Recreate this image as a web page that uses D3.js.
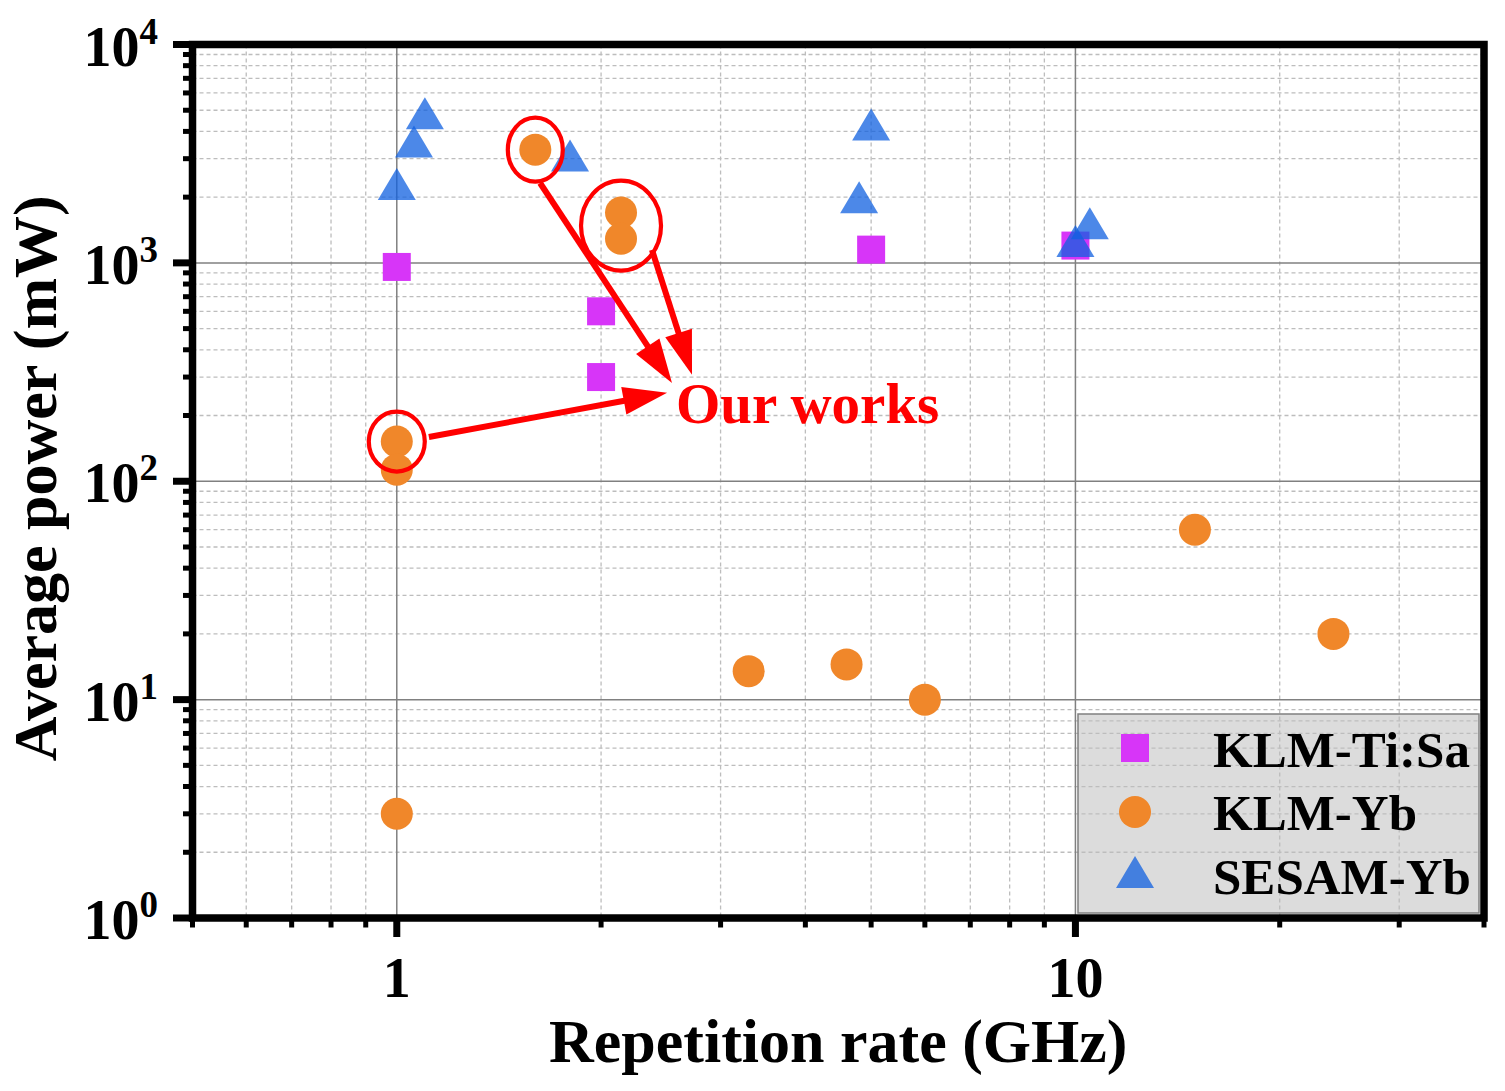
<!DOCTYPE html>
<html>
<head>
<meta charset="utf-8">
<script src="https://cdn.jsdelivr.net/npm/d3@7"></script>
<style>
  html, body { margin: 0; padding: 0; background: #fff; }
  svg { display: block; }
  text { font-family: "Liberation Serif", "Times New Roman", serif; font-weight: bold; }
</style>
</head>
<body>
<svg id="chart" width="1505" height="1091"></svg>
<script>
// ---------------- data ----------------
const tisaX = [1, 2, 2, 5, 10];
const tisaY = [958, 600, 300, 1150, 1200];

const ybX = [1.6, 2.14, 2.14, 1, 1, 1, 3.3, 4.6, 6, 15, 24];
const ybY = [3300, 1700, 1290, 152, 113, 3, 13.5, 14.5, 10, 60, 20];

const sesamX = [1, 1.06, 1.1, 1.8, 5, 4.8, 10, 10.5];
const sesamY = [2300, 3600, 4850, 3100, 4300, 2000, 1260, 1520];

const seriesNames = ["KLM-Ti:Sa", "KLM-Yb", "SESAM-Yb"];

const xMajorTicks = [1, 10];
const xMinorTicks = [0.5, 0.6, 0.7, 0.8, 0.9, 2, 3, 4, 5, 6, 7, 8, 9, 20, 30, 40];
const yMajorTicks = [1, 10, 100, 1000, 10000];
const yMajorExp = ["0", "1", "2", "3", "4"];
const yMinorTicks = [1, 10, 100, 1000].flatMap(d => [2,3,4,5,6,7,8,9].map(m => m * d));

// annotation (data coordinates)
const circledIdx = [[0], [1, 2], [3]];       // KLM-Yb points circled ("Our works")
const arrowStartX = [1.626, 2.377, 1.115];
const arrowStartY = [2322, 1146, 159.5];
const arrowTipX = [2.544, 2.723, 2.502];
const arrowTipY = [282, 307, 254];
const noteX = 2.578, noteY = 185, noteText = "Our works";

// ---------------- layout ----------------
const L = 192.5, R = 1484, T = 44.5, B = 918;
const x = d3.scaleLog().domain([0.5, 40]).range([L, R]);
const y = d3.scaleLog().domain([1, 10000]).range([B, T]);

const colTi = "#D735F8", colYb = "#F0872A", colSe = "#1060E0";
const svg = d3.select("#chart");

// legend background (under grid, grid shows through)
const lg = { x0: 1078, y0: 714, x1: 1479, y1: 913 };
svg.append("rect").attr("x", lg.x0).attr("y", lg.y0)
  .attr("width", lg.x1 - lg.x0).attr("height", lg.y1 - lg.y0)
  .attr("fill", "#dcdcdc");

// ---------------- grid ----------------
const grid = svg.append("g");
grid.selectAll(".gxm").data(xMinorTicks.filter(d => d > 0.5 && d < 40)).join("line")
  .attr("x1", d => x(d)).attr("x2", d => x(d)).attr("y1", T).attr("y2", B)
  .attr("stroke", "#bdbdbd").attr("stroke-width", 1.3).attr("stroke-dasharray", "4,3");
grid.selectAll(".gym").data(yMinorTicks).join("line")
  .attr("y1", d => y(d)).attr("y2", d => y(d)).attr("x1", L).attr("x2", R)
  .attr("stroke", "#bdbdbd").attr("stroke-width", 1.3).attr("stroke-dasharray", "4,3");
grid.selectAll(".gxM").data(xMajorTicks).join("line")
  .attr("x1", d => x(d)).attr("x2", d => x(d)).attr("y1", T).attr("y2", B)
  .attr("stroke", "#808080").attr("stroke-width", 1.5);
grid.selectAll(".gyM").data(yMajorTicks.slice(1, -1)).join("line")
  .attr("y1", d => y(d)).attr("y2", d => y(d)).attr("x1", L).attr("x2", R)
  .attr("stroke", "#808080").attr("stroke-width", 1.5);

// legend border
svg.append("rect").attr("x", lg.x0).attr("y", lg.y0)
  .attr("width", lg.x1 - lg.x0).attr("height", lg.y1 - lg.y0)
  .attr("fill", "none").attr("stroke", "#808080").attr("stroke-width", 1.5);

// ---------------- markers ----------------
const sq = 28, cr = 16, tw = 38, th = 32;
const triPath = `M0,${-th/2}L${tw/2},${th/2}L${-tw/2},${th/2}Z`;

svg.append("g").selectAll("rect").data(tisaX.map((v, i) => [v, tisaY[i]])).join("rect")
  .attr("x", d => x(d[0]) - sq/2).attr("y", d => y(d[1]) - sq/2)
  .attr("width", sq).attr("height", sq).attr("fill", colTi);

svg.append("g").selectAll("circle").data(ybX.map((v, i) => [v, ybY[i]])).join("circle")
  .attr("cx", d => x(d[0])).attr("cy", d => y(d[1])).attr("r", cr).attr("fill", colYb);

svg.append("g").selectAll("path").data(sesamX.map((v, i) => [v, sesamY[i]])).join("path")
  .attr("d", triPath).attr("transform", d => `translate(${x(d[0])},${y(d[1])})`)
  .attr("fill", colSe).attr("fill-opacity", 0.75);

// ---------------- annotation ----------------
const ann = svg.append("g");
const ellR = [[27.5, 32], [40, 45], [28, 30]];
circledIdx.forEach((idx, k) => {
  const cx = d3.mean(idx, i => x(ybX[i]));
  const cy = d3.mean(idx, i => y(ybY[i]));
  ann.append("ellipse").attr("cx", cx).attr("cy", cy)
    .attr("rx", ellR[k][0]).attr("ry", ellR[k][1])
    .attr("fill", "none").attr("stroke", "#ff0000").attr("stroke-width", 4.2);
});
arrowStartX.forEach((sx, k) => {
  const x0 = x(sx), y0 = y(arrowStartY[k]);
  const x1 = x(arrowTipX[k]), y1 = y(arrowTipY[k]);
  const len = Math.hypot(x1 - x0, y1 - y0);
  const ux = (x1 - x0) / len, uy = (y1 - y0) / len;
  const hl = 44, hw = 14;
  ann.append("line").attr("x1", x0).attr("y1", y0)
    .attr("x2", x1 - ux * hl * 0.8).attr("y2", y1 - uy * hl * 0.8)
    .attr("stroke", "#ff0000").attr("stroke-width", 6);
  const bx = x1 - ux * hl, by = y1 - uy * hl;
  ann.append("path")
    .attr("d", `M${x1},${y1}L${bx - uy * hw},${by + ux * hw}L${bx + uy * hw},${by - ux * hw}Z`)
    .attr("fill", "#ff0000");
});
ann.append("text").attr("x", x(noteX)).attr("y", y(noteY))
  .attr("font-size", 57).attr("fill", "#ff0000").text(noteText);

// ---------------- axes ----------------
const ax = svg.append("g");
// minor ticks
ax.selectAll(".xmt").data(xMinorTicks).join("line")
  .attr("x1", d => x(d)).attr("x2", d => x(d)).attr("y1", B).attr("y2", B + 9.5)
  .attr("stroke", "#000").attr("stroke-width", 5);
ax.selectAll(".ymt").data(yMinorTicks).join("line")
  .attr("y1", d => y(d)).attr("y2", d => y(d)).attr("x1", L).attr("x2", L - 9.5)
  .attr("stroke", "#000").attr("stroke-width", 5);
// major ticks
ax.selectAll(".xMt").data(xMajorTicks).join("line")
  .attr("x1", d => x(d)).attr("x2", d => x(d)).attr("y1", B).attr("y2", B + 19)
  .attr("stroke", "#000").attr("stroke-width", 7);
ax.selectAll(".yMt").data(yMajorTicks).join("line")
  .attr("y1", d => y(d)).attr("y2", d => y(d)).attr("x1", L).attr("x2", L - 19.5)
  .attr("stroke", "#000").attr("stroke-width", 7);
// frame
ax.append("rect").attr("x", L).attr("y", T).attr("width", R - L).attr("height", B - T)
  .attr("fill", "none").attr("stroke", "#000").attr("stroke-width", 7.5);

// x tick labels
ax.selectAll(".xl").data(xMajorTicks).join("text")
  .attr("x", d => x(d)).attr("y", B + 79).attr("text-anchor", "middle")
  .attr("font-size", 56).text(d => d3.format("d")(d));

// y tick labels
yMajorTicks.forEach((d, i) => {
  const t = ax.append("text").attr("x", 158).attr("y", y(d) + 21)
    .attr("text-anchor", "end").attr("font-size", 56);
  t.append("tspan").text("10");
  t.append("tspan").attr("font-size", 37).attr("dy", -22).text(yMajorExp[i]);
});

// axis titles
svg.append("text").attr("x", (L + R) / 2).attr("y", 1062).attr("text-anchor", "middle")
  .attr("font-size", 62).text("Repetition rate (GHz)");
svg.append("text").attr("transform", `translate(56,${(T + B) / 2 - 3}) rotate(-90)`)
  .attr("text-anchor", "middle").attr("font-size", 62).text("Average power (mW)");

// ---------------- legend items ----------------
const legY = [748, 812, 872];
const legBase = [767, 830, 894];
const lgx = 1135;
svg.append("rect").attr("x", lgx - sq/2).attr("y", legY[0] - sq/2)
  .attr("width", sq).attr("height", sq).attr("fill", colTi);
svg.append("circle").attr("cx", lgx).attr("cy", legY[1]).attr("r", cr).attr("fill", colYb);
svg.append("path").attr("d", triPath).attr("transform", `translate(${lgx},${legY[2]})`)
  .attr("fill", colSe).attr("fill-opacity", 0.75);
seriesNames.forEach((n, i) => {
  svg.append("text").attr("x", 1213).attr("y", legBase[i])
    .attr("font-size", 51).text(n);
});
</script>
</body>
</html>
